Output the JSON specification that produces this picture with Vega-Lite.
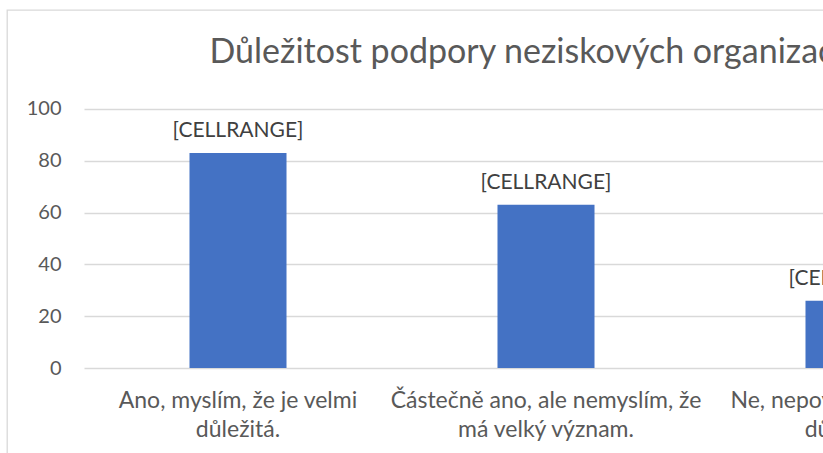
{
  "$schema": "https://vega.github.io/schema/vega-lite/v6.json",
  "width": 1038,
  "height": 460,
  "autosize": "none",
  "padding": {"left": 7, "top": 10, "right": 0, "bottom": 0},
  "background": "white",
  "config": {
    "view": {"stroke": "#d9d9d9", "strokeWidth": 1.3},
    "font": "Lato"
  },
  "title": {
    "text": "Důležitost podpory neziskových organizací",
    "font": "Lato",
    "fontSize": 34,
    "fontWeight": "normal",
    "color": "#595959",
    "anchor": "middle",
    "frame": "group",
    "offset": -60
  },
  "data": {
    "values": [
      {"odpoved": "Ano, myslím, že je velmi důležitá.", "hodnota": 83, "popisek": "[CELLRANGE]"},
      {"odpoved": "Částečně ano, ale nemyslím, že má velký význam.", "hodnota": 63, "popisek": "[CELLRANGE]"},
      {"odpoved": "Ne, nepovažuji ji za příliš důležitou.", "hodnota": 26, "popisek": "[CELLRANGE]"}
    ]
  },
  "encoding": {
    "x": {
      "field": "odpoved",
      "type": "nominal",
      "sort": null,
      "scale": {"range": [77, 1001], "paddingInner": 0.685, "paddingOuter": 0.3425},
      "axis": {
        "title": null,
        "domain": false,
        "ticks": false,
        "labelAngle": 0,
        "offset": -102,
        "labelPadding": 21,
        "labelFont": "Lato",
        "labelFontSize": 23,
        "labelColor": "#595959",
        "labelLineHeight": 29,
        "labelLimit": 0,
        "labelExpr": "datum.value == 'Ano, myslím, že je velmi důležitá.' ? ['Ano, myslím, že je velmi', 'důležitá.'] : datum.value == 'Částečně ano, ale nemyslím, že má velký význam.' ? ['Částečně ano, ale nemyslím, že', 'má velký význam.'] : ['Ne, nepovažuji ji za příliš', 'důležitou.']"
      }
    },
    "y": {
      "field": "hodnota",
      "type": "quantitative",
      "scale": {"domain": [-39.38, 138.22], "nice": false, "zero": false},
      "axis": {
        "title": null,
        "values": [0, 20, 40, 60, 80, 100],
        "domain": false,
        "ticks": false,
        "offset": -76,
        "labelPadding": 22,
        "labelFont": "Lato",
        "labelFontSize": 20,
        "labelColor": "#595959",
        "grid": true,
        "gridColor": "#d9d9d9",
        "gridWidth": 1.3
      }
    }
  },
  "layer": [
    {"mark": {"type": "bar", "color": "#4472c4"}},
    {
      "mark": {"type": "text", "baseline": "alphabetic", "dy": -16, "font": "Lato", "fontSize": 21, "color": "#404040"},
      "encoding": {"text": {"field": "popisek"}}
    }
  ]
}
